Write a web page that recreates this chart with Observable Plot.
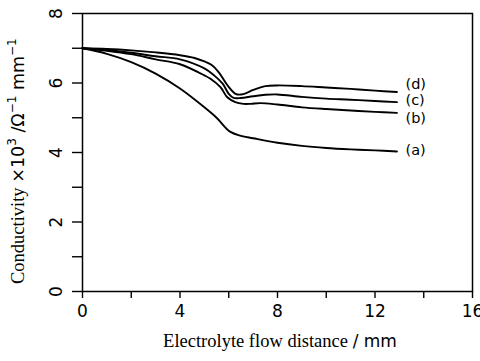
<!DOCTYPE html>
<html><head><meta charset="utf-8">
<script src="https://cdn.jsdelivr.net/npm/d3@7"></script>
<script src="https://cdn.jsdelivr.net/npm/@observablehq/plot@0.6"></script>
<style>body{margin:0;background:#fff}</style>
</head><body><div id="chart"></div>
<script>
// Curve (a)
const xA = [0, 1, 2, 3, 4, 5, 5.5, 6.05, 6.5, 7, 8, 9, 10, 11, 12, 12.9];
const yA = [7.0, 6.84, 6.6, 6.27, 5.84, 5.3, 5.0, 4.6, 4.48, 4.41, 4.28, 4.19, 4.13, 4.09, 4.06, 4.03];
// Curve (b)
const xB = [0, 1, 2, 3, 4, 5, 5.25, 5.66, 5.94, 6.27, 6.6, 6.9, 7.3, 8, 9, 10, 11, 12, 12.9];
const yB = [7.0, 6.93, 6.83, 6.68, 6.54, 6.22, 6.12, 5.88, 5.59, 5.45, 5.40, 5.40, 5.42, 5.38, 5.30, 5.25, 5.21, 5.17, 5.14];
// Curve (c)
const xC = [0, 1, 2, 3, 4, 5, 5.4, 5.75, 6.0, 6.2, 6.5, 7.0, 7.5, 8, 9, 10, 11, 12, 12.9];
const yC = [7.0, 6.95, 6.87, 6.77, 6.68, 6.42, 6.22, 5.98, 5.69, 5.57, 5.57, 5.62, 5.66, 5.67, 5.60, 5.55, 5.52, 5.48, 5.45];
// Curve (d)
const xD = [0, 1, 2, 3, 4, 4.6, 5.0, 5.3, 5.6, 5.95, 6.3, 6.6, 7.0, 7.5, 8, 9, 10, 11, 12, 12.9];
const yD = [7.0, 6.98, 6.94, 6.88, 6.80, 6.72, 6.62, 6.52, 6.30, 5.93, 5.68, 5.68, 5.80, 5.91, 5.93, 5.91, 5.87, 5.83, 5.78, 5.74];

const seriesNames = ["(a)", "(b)", "(c)", "(d)"];
const labelValues = [4.06, 4.99, 5.5, 5.96];
const labelAtX = 13.25;

const xTicks = [0, 2, 4, 6, 8, 10, 12, 14, 16];
const xTickLabels = [0, 4, 8, 12, 16];
const yTicks = [0, 1, 2, 3, 4, 5, 6, 7, 8];
const yTickLabels = [0, 2, 4, 6, 8];

const allX = [xA, xB, xC, xD], allY = [yA, yB, yC, yD];
const data = seriesNames.flatMap((s, k) => allX[k].map((x, i) => ({series: s, x, y: allY[k][i]})));
const labelData = seriesNames.map((s, k) => ({t: s, x: labelAtX, y: labelValues[k]}));

const sans = "'DejaVu Sans', 'Liberation Sans', sans-serif";
const serif = "'Liberation Serif', 'Times New Roman', serif";

const plot = Plot.plot({
  width: 480, height: 361,
  marginLeft: 82, marginRight: 8, marginTop: 13, marginBottom: 70,
  x: {domain: [0, 16], label: null},
  y: {domain: [0, 8], label: null},
  style: {background: "#fff", color: "#000", fontFamily: sans},
  marks: [
    Plot.axisY({ticks: yTicks, tickSize: 10, tickFormat: () => "", strokeWidth: 1.4, label: null}),
    Plot.text(yTickLabels, {y: d => d, text: d => String(d), frameAnchor: "left", dx: -26, rotate: -90, fontSize: 17, textAnchor: "middle", lineAnchor: "middle", fontFamily: sans}),
    Plot.axisX({ticks: xTicks, tickSize: 7, tickFormat: d => xTickLabels.includes(d) ? String(d) : "", fontSize: 17, tickPadding: 6, strokeWidth: 1.4, fontFamily: sans, label: null}),
    Plot.frame({strokeWidth: 1.5}),
    Plot.line(data, {x: "x", y: "y", z: "series", curve: "catmull-rom", stroke: "#000", strokeWidth: 1.9}),
    Plot.text(labelData, {x: "x", y: "y", text: "t", textAnchor: "start", fontSize: 14.5, fontFamily: sans})
  ]
});
document.getElementById("chart").appendChild(plot);

const svg = d3.select(plot);
// x title
const xt = svg.append("text").attr("x", 280).attr("y", 347).attr("text-anchor", "middle")
  .attr("font-size", 18.5).attr("fill", "#000");
xt.append("tspan").attr("font-family", serif).text("Electrolyte flow distance ");
xt.append("tspan").attr("font-family", sans).attr("font-size", 17).text("/ mm");

// y title
const yt = svg.append("text").attr("transform", "translate(24,284) rotate(-90)").attr("text-anchor", "start")
  .attr("font-size", 18.5).attr("fill", "#000");
yt.append("tspan").attr("font-family", serif).text("Conductivity ");
yt.append("tspan").attr("font-family", sans).attr("font-size", 17.5).text("×10");
yt.append("tspan").attr("font-family", sans).attr("font-size", 12).attr("dy", -8).text("3");
yt.append("tspan").attr("font-family", sans).attr("font-size", 17.5).attr("dy", 8).text(" /Ω");
yt.append("tspan").attr("font-family", sans).attr("font-size", 12).attr("dy", -8).text("−1");
yt.append("tspan").attr("font-family", sans).attr("font-size", 17.5).attr("dy", 8).text(" mm");
yt.append("tspan").attr("font-family", sans).attr("font-size", 12).attr("dy", -8).text("−1");
</script>
</body></html>
